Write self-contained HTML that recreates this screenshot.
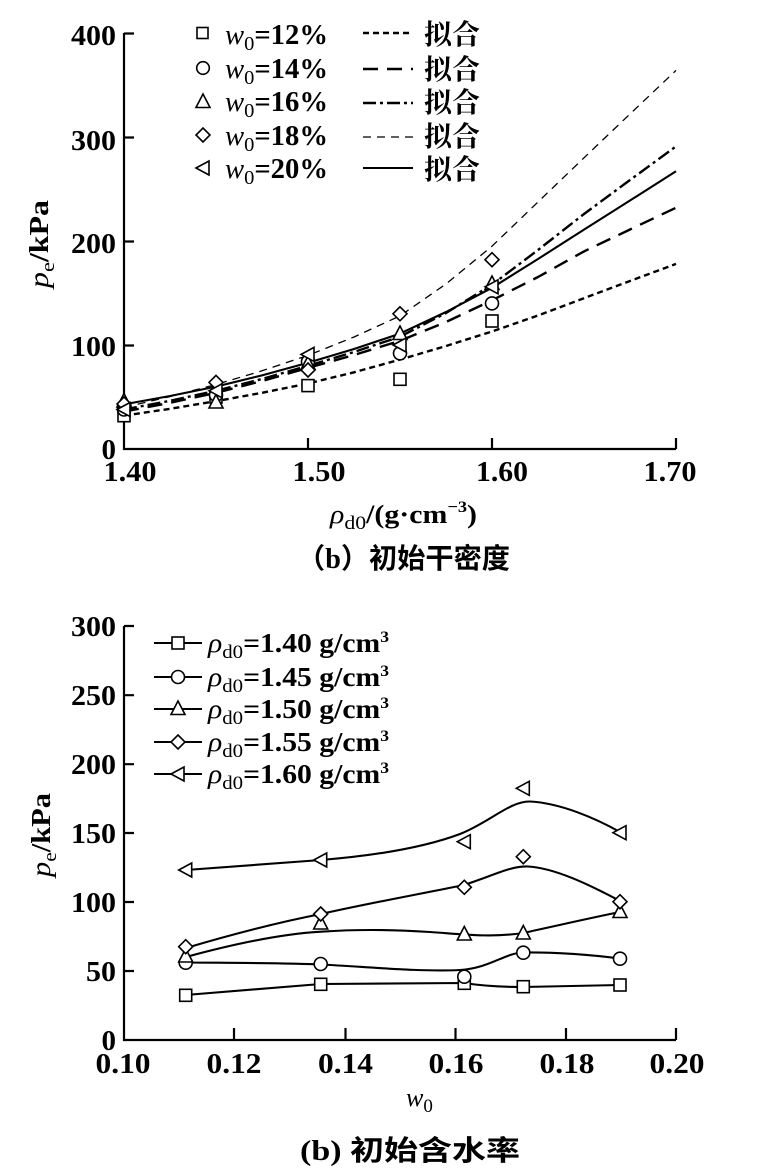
<!DOCTYPE html>
<html><head><meta charset="utf-8"><style>
html,body{margin:0;padding:0;background:#fff;}
svg{display:block;}
text{font-family:"Liberation Serif","Noto Serif CJK SC",serif;fill:#000;}
.cjk{font-family:"Liberation Serif","Noto Sans CJK SC",sans-serif;}
.tk{font-size:29px;font-weight:bold;}
.m{fill:#fff;stroke:#000;stroke-width:1.6;}
.ax{stroke:#000;stroke-width:2.2;fill:none;}
</style></head><body>
<svg width="778" height="1170" viewBox="0 0 778 1170" xmlns="http://www.w3.org/2000/svg">
<rect width="778" height="1170" fill="#fff"/>

<!-- ============ TOP CHART ============ -->
<path class="ax" d="M124,33 L124,449 L676,449"/>
<path class="ax" d="M124,33.5 h10 M124,137.5 h10 M124,241.5 h10 M124,345.5 h10"/>
<path class="ax" d="M308,449 v-11 M492,449 v-11 M676,449 v-11"/>
<g class="tk" text-anchor="end">
<text x="116" y="45" textLength="45" lengthAdjust="spacingAndGlyphs">400</text>
<text x="116" y="150" textLength="45" lengthAdjust="spacingAndGlyphs">300</text>
<text x="116" y="253" textLength="45" lengthAdjust="spacingAndGlyphs">200</text>
<text x="116" y="356" textLength="45" lengthAdjust="spacingAndGlyphs">100</text>
<text x="116" y="459">0</text>
</g>
<g class="tk" text-anchor="middle">
<text x="130" y="481" textLength="53" lengthAdjust="spacingAndGlyphs">1.40</text>
<text x="319" y="481" textLength="53" lengthAdjust="spacingAndGlyphs">1.50</text>
<text x="502" y="481" textLength="52" lengthAdjust="spacingAndGlyphs">1.60</text>
<text x="670" y="481" textLength="53" lengthAdjust="spacingAndGlyphs">1.70</text>
</g>
<text transform="translate(48,244) rotate(-90)" text-anchor="middle" font-size="27" textLength="88" lengthAdjust="spacingAndGlyphs"><tspan font-style="italic">p</tspan><tspan font-size="19" dy="6">e</tspan><tspan dy="-6" font-weight="bold">/kPa</tspan></text>
<text x="330" y="523" font-size="26" font-weight="bold" textLength="147" lengthAdjust="spacingAndGlyphs"><tspan font-style="italic" font-weight="normal">ρ</tspan><tspan font-size="19" dy="6" font-weight="normal">d0</tspan><tspan dy="-6">/(g·cm</tspan><tspan font-size="16" dy="-11">−3</tspan><tspan dy="11">)</tspan></text>
<text class="cjk" x="297" y="568" font-size="28" font-weight="bold" textLength="213" lengthAdjust="spacingAndGlyphs">（b）初始干密度</text>

<g fill="none" stroke="#000" stroke-linejoin="round">
<polyline stroke-width="2.4" stroke-dasharray="6,4" points="124,415.7 170,408.8 216,401.2 262,392.8 308,383.5 354,372.3 400,359.6 446,346 492,331.5 538,315.5 584,298.2 630,281 676,263.9"/>
<polyline stroke-width="2.4" stroke-dasharray="15,9" points="124,411.6 170,402.8 216,392.8 262,381 308,367.9 354,355 400,340.8 446,322 492,300.3 538,277 584,251.4 630,229.5 676,207.7"/>
<polyline stroke-width="2.4" stroke-dasharray="13,4,3,4" points="124,409.5 170,400.8 216,390.8 262,379 308,365.8 354,352 400,336.7 446,313 492,284.7 538,250 584,214 630,180 676,146.4"/>
<polyline stroke-width="1.3" stroke-dasharray="8,6" points="124,407.4 170,396.6 216,384.5 262,370.8 308,355.4 354,337 400,315.9 446,284 492,246.2 538,202 584,157.8 630,114 676,70.4"/>
<polyline stroke-width="2.1" points="124,404.3 170,396 216,386.6 262,375.4 308,362.7 354,349 400,333.6 446,312 492,287.8 538,259 584,229.6 630,200.5 676,171.3"/>
</g>

<g class="m">
<rect x="118" y="409.7" width="12" height="12"/>
<rect x="210" y="391" width="12" height="12"/>
<rect x="302" y="379.6" width="12" height="12"/>
<rect x="394" y="373.3" width="12" height="12"/>
<rect x="486" y="315" width="12" height="12"/>
<circle cx="124" cy="409.5" r="6.5"/>
<circle cx="216" cy="395" r="6.5"/>
<circle cx="308" cy="361.6" r="6.5"/>
<circle cx="400" cy="353.3" r="6.5"/>
<circle cx="492" cy="303.4" r="6.5"/>
<polygon points="124,393.5 131,407 117,407"/>
<polygon points="216,394.5 223,408 209,408"/>
<polygon points="308,356 315,369.5 301,369.5"/>
<polygon points="400,326 407,339.5 393,339.5"/>
<polygon points="492,276 499,289.5 485,289.5"/>
<polygon points="124,397 131,404 124,411 117,404"/>
<polygon points="216,375.4 223,382.4 216,389.4 209,382.4"/>
<polygon points="308,363 315,370 308,377 301,370"/>
<polygon points="400,306.8 407,313.8 400,320.8 393,313.8"/>
<polygon points="492,252.7 499,259.7 492,266.7 485,259.7"/>
<polygon points="117,409.5 130,402.5 130,416.5"/>
<polygon points="209,390.8 222,383.8 222,397.8"/>
<polygon points="301,354.4 314,347.4 314,361.4"/>
<polygon points="393,345 406,338 406,352"/>
<polygon points="485,286.8 498,279.8 498,293.8"/>
</g>

<g class="m">
<rect x="197" y="27.5" width="11" height="11"/>
<circle cx="203" cy="68" r="6.3"/>
<polygon points="203,94 210,107.5 196,107.5"/>
<polygon points="203,128 210,135 203,142 196,135"/>
<polygon points="196,168 209,161 209,175"/>
</g>
<g font-size="28" font-weight="bold">
<text x="225" y="44" textLength="103" lengthAdjust="spacingAndGlyphs"><tspan font-style="italic" font-weight="normal">w</tspan><tspan font-size="20" dy="6" font-weight="normal">0</tspan><tspan dy="-6">=12%</tspan></text>
<text x="225" y="78" textLength="103" lengthAdjust="spacingAndGlyphs"><tspan font-style="italic" font-weight="normal">w</tspan><tspan font-size="20" dy="6" font-weight="normal">0</tspan><tspan dy="-6">=14%</tspan></text>
<text x="225" y="111" textLength="103" lengthAdjust="spacingAndGlyphs"><tspan font-style="italic" font-weight="normal">w</tspan><tspan font-size="20" dy="6" font-weight="normal">0</tspan><tspan dy="-6">=16%</tspan></text>
<text x="225" y="145" textLength="103" lengthAdjust="spacingAndGlyphs"><tspan font-style="italic" font-weight="normal">w</tspan><tspan font-size="20" dy="6" font-weight="normal">0</tspan><tspan dy="-6">=18%</tspan></text>
<text x="225" y="178" textLength="103" lengthAdjust="spacingAndGlyphs"><tspan font-style="italic" font-weight="normal">w</tspan><tspan font-size="20" dy="6" font-weight="normal">0</tspan><tspan dy="-6">=20%</tspan></text>
</g>
<g fill="none" stroke="#000">
<line x1="363" y1="33" x2="413" y2="33" stroke-width="2.4" stroke-dasharray="6,4"/>
<line x1="363" y1="69" x2="413" y2="69" stroke-width="2.4" stroke-dasharray="15,9"/>
<line x1="363" y1="103" x2="413" y2="103" stroke-width="2.4" stroke-dasharray="13,4,3,4"/>
<line x1="363" y1="137" x2="413" y2="137" stroke-width="1.3" stroke-dasharray="8,6"/>
<line x1="363" y1="168" x2="413" y2="168" stroke-width="2.1"/>
</g>
<g class="cjk" font-size="28" font-weight="bold">
<text x="424" y="44" textLength="56" lengthAdjust="spacingAndGlyphs">拟合</text>
<text x="424" y="79" textLength="56" lengthAdjust="spacingAndGlyphs">拟合</text>
<text x="424" y="112" textLength="56" lengthAdjust="spacingAndGlyphs">拟合</text>
<text x="424" y="146" textLength="56" lengthAdjust="spacingAndGlyphs">拟合</text>
<text x="424" y="179" textLength="56" lengthAdjust="spacingAndGlyphs">拟合</text>
</g>

<!-- ============ BOTTOM CHART ============ -->
<path class="ax" d="M124,626 L124,1040 L676,1040"/>
<path class="ax" d="M124,626 h10 M124,695.2 h10 M124,764.2 h10 M124,833 h10 M124,902 h10 M124,971 h10"/>
<path class="ax" d="M234,1040 v-12 M345.5,1040 v-12 M455.5,1040 v-12 M566,1040 v-12 M676,1040 v-12"/>
<g class="tk" text-anchor="end">
<text x="116" y="636" textLength="45" lengthAdjust="spacingAndGlyphs">300</text>
<text x="116" y="705" textLength="45" lengthAdjust="spacingAndGlyphs">250</text>
<text x="116" y="774" textLength="45" lengthAdjust="spacingAndGlyphs">200</text>
<text x="116" y="843" textLength="45" lengthAdjust="spacingAndGlyphs">150</text>
<text x="116" y="912" textLength="45" lengthAdjust="spacingAndGlyphs">100</text>
<text x="116" y="981" textLength="30" lengthAdjust="spacingAndGlyphs">50</text>
<text x="116" y="1050">0</text>
</g>
<g class="tk" text-anchor="middle">
<text x="123" y="1073" textLength="55" lengthAdjust="spacingAndGlyphs">0.10</text>
<text x="234" y="1073" textLength="55" lengthAdjust="spacingAndGlyphs">0.12</text>
<text x="345.5" y="1073" textLength="55" lengthAdjust="spacingAndGlyphs">0.14</text>
<text x="456" y="1073" textLength="55" lengthAdjust="spacingAndGlyphs">0.16</text>
<text x="567" y="1073" textLength="55" lengthAdjust="spacingAndGlyphs">0.18</text>
<text x="677" y="1073" textLength="55" lengthAdjust="spacingAndGlyphs">0.20</text>
</g>
<text transform="translate(50,835) rotate(-90)" text-anchor="middle" font-size="27" textLength="84" lengthAdjust="spacingAndGlyphs"><tspan font-style="italic">p</tspan><tspan font-size="19" dy="6">e</tspan><tspan dy="-6" font-weight="bold">/kPa</tspan></text>
<text x="406" y="1106" font-size="26"><tspan font-style="italic">w</tspan><tspan font-size="19" dy="6">0</tspan></text>
<text class="cjk" x="300" y="1160" font-size="28" font-weight="bold" textLength="220" lengthAdjust="spacingAndGlyphs">(b) 初始含水率</text>

<g fill="none" stroke="#000" stroke-width="2.1">
<path d="M185.7,995 L320.7,984 L464,983 Q490,987 523,987 L620,985"/>
<path d="M186,962.5 C250,963 290,963 320.7,964.5 C370,967 420,972 460,970 C490,968 505,953 523,952.5 C560,952 600,956 620,958.5"/>
<path d="M186,957 C230,945 280,934 321,931.7 C360,929 400,930 430,932 C460,934 490,938 523,933 C560,925 590,918 620,912"/>
<path d="M186,948 C230,935 280,922 321,914 C370,903 420,894 464,885 C495,875 510,866 528,866.5 C555,868 590,885 620,901"/>
<path d="M186,870 C240,866 290,862 321,860 C370,856 420,849 460,834 C490,822 510,801 530,801.5 C560,803 595,818 620,832"/>
</g>
<g class="m">
<rect x="179.7" y="989.3" width="12" height="12"/>
<rect x="314.7" y="978.3" width="12" height="12"/>
<rect x="458.3" y="977.3" width="12" height="12"/>
<rect x="517.3" y="980.7" width="12" height="12"/>
<rect x="614" y="979" width="12" height="12"/>

<circle cx="185.7" cy="962.7" r="6.5"/>
<circle cx="320.7" cy="964" r="6.5"/>
<circle cx="464.3" cy="976.7" r="6.5"/>
<circle cx="523.3" cy="952.7" r="6.5"/>
<circle cx="620" cy="958.7" r="6.5"/>

<polygon points="185.7,948.5 192.7,962 178.7,962"/>
<polygon points="320.7,915.5 327.7,929 313.7,929"/>
<polygon points="464.3,926.5 471.3,940 457.3,940"/>
<polygon points="523.3,925.5 530.3,939 516.3,939"/>
<polygon points="620,904 627,917.5 613,917.5"/>

<polygon points="185.7,939.7 192.7,946.7 185.7,953.7 178.7,946.7"/>
<polygon points="320.7,907 327.7,914 320.7,921 313.7,914"/>
<polygon points="464.3,880.3 471.3,887.3 464.3,894.3 457.3,887.3"/>
<polygon points="523.3,849.7 530.3,856.7 523.3,863.7 516.3,856.7"/>
<polygon points="620,894.7 627,901.7 620,908.7 613,901.7"/>

<polygon points="178.7,870 191.7,863 191.7,877"/>
<polygon points="313.7,860 326.7,853 326.7,867"/>
<polygon points="457.3,841.7 470.3,834.7 470.3,848.7"/>
<polygon points="516.3,788.3 529.3,781.3 529.3,795.3"/>
<polygon points="613,832.7 626,825.7 626,839.7"/>
</g>

<g stroke="#000" stroke-width="2.1">
<line x1="154" y1="643" x2="202" y2="643"/>
<line x1="154" y1="677" x2="202" y2="677"/>
<line x1="154" y1="709" x2="202" y2="709"/>
<line x1="154" y1="742" x2="202" y2="742"/>
<line x1="154" y1="774" x2="202" y2="774"/>
</g>
<g class="m">
<rect x="172" y="637" width="12" height="12"/>
<circle cx="178" cy="677" r="6.5"/>
<polygon points="178,701 185,714.5 171,714.5"/>
<polygon points="178,735 185,742 178,749 171,742"/>
<polygon points="171,774 184,767 184,781"/>
</g>
<g font-size="27" font-weight="bold">
<text x="208" y="652" textLength="181" lengthAdjust="spacingAndGlyphs"><tspan font-style="italic" font-weight="normal">ρ</tspan><tspan font-size="19" dy="6" font-weight="normal">d0</tspan><tspan dy="-6">=1.40 g/cm</tspan><tspan font-size="16" dy="-10">3</tspan></text>
<text x="208" y="686" textLength="181" lengthAdjust="spacingAndGlyphs"><tspan font-style="italic" font-weight="normal">ρ</tspan><tspan font-size="19" dy="6" font-weight="normal">d0</tspan><tspan dy="-6">=1.45 g/cm</tspan><tspan font-size="16" dy="-10">3</tspan></text>
<text x="208" y="718" textLength="181" lengthAdjust="spacingAndGlyphs"><tspan font-style="italic" font-weight="normal">ρ</tspan><tspan font-size="19" dy="6" font-weight="normal">d0</tspan><tspan dy="-6">=1.50 g/cm</tspan><tspan font-size="16" dy="-10">3</tspan></text>
<text x="208" y="751" textLength="181" lengthAdjust="spacingAndGlyphs"><tspan font-style="italic" font-weight="normal">ρ</tspan><tspan font-size="19" dy="6" font-weight="normal">d0</tspan><tspan dy="-6">=1.55 g/cm</tspan><tspan font-size="16" dy="-10">3</tspan></text>
<text x="208" y="783" textLength="181" lengthAdjust="spacingAndGlyphs"><tspan font-style="italic" font-weight="normal">ρ</tspan><tspan font-size="19" dy="6" font-weight="normal">d0</tspan><tspan dy="-6">=1.60 g/cm</tspan><tspan font-size="16" dy="-10">3</tspan></text>
</g>
</svg>
</body></html>
